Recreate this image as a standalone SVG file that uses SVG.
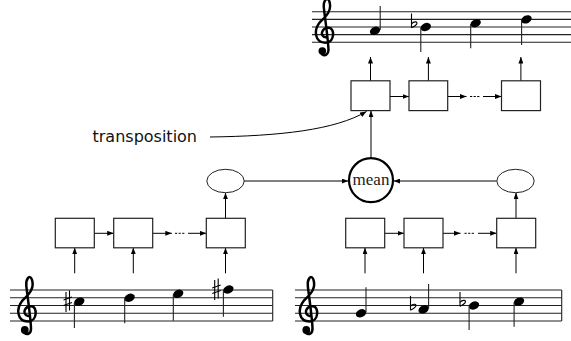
<svg xmlns="http://www.w3.org/2000/svg" xmlns:xlink="http://www.w3.org/1999/xlink" width="571" height="341" viewBox="0 0 571 341">
<style>
.staff line{stroke:#222;stroke-width:1.1}
.bar{stroke:#222;stroke-width:1}
.box{fill:#fff;stroke:#222;stroke-width:1.2}
.ell{fill:#fff;stroke:#222;stroke-width:1}
.mean{fill:#fff;stroke:#000;stroke-width:2.2}
.head{fill:#000}
.stem{stroke:#000;stroke-width:1.1}
.acc{fill:none;stroke:#000;stroke-width:1.1}
.conn path{fill:none;stroke:#000;stroke-width:1}
.arr{marker-end:url(#ah)}
.dots{stroke-dasharray:2.2,1.4}
.lbl{font-family:"DejaVu Sans",sans-serif;font-size:16px;fill:#111}
.mtxt{font-family:"Liberation Serif",serif;font-size:17px;fill:#222}
</style>
<defs>
<marker id="ah" markerUnits="userSpaceOnUse" markerWidth="7" markerHeight="5" refX="6.5" refY="2.5" orient="auto">
<path d="M0,0 L6.5,2.5 L0,5 z" fill="#000"/>
</marker>
<g id="clef">
<path d="M0.1,0.35 C-0.75,0.2 -0.45,-0.9 0.5,-0.9 C1.3,-0.9 1.3,1.05 0.1,1.05 C-1.4,1.05 -1.5,-0.6 -0.65,-1.65 C0.3,-2.5 0.95,-3.3 0.55,-4.4 C0.25,-5.05 -0.25,-4.4 -0.15,-3.5 C-0.05,-2.5 0.4,0.5 0.45,1.9 C0.5,2.6 0,2.85 -0.4,2.55" fill="none" stroke="#000" stroke-width="0.32" stroke-linecap="round"/>
<circle cx="-0.35" cy="2.15" r="0.5" fill="#000"/>
</g>
<g id="flat">
<path d="M0,-13.5 V0.8" class="acc"/>
<path d="M0,-3.2 C2.5,-6.2 7,-5.5 5,-2.6 C4,-1.2 2,-0.2 0,0.8" class="acc" stroke-width="1.7"/>
</g>
<g id="sharp">
<path d="M3,-9.5 V10.5 M6.5,-11 V9" class="acc" stroke-width="1.2"/>
<path d="M0.5,-1.5 L9,-4.5 M0.5,4 L9,1" class="acc" stroke-width="2.6"/>
</g>
</defs>
<rect width="571" height="341" fill="#fff"/>

<g id="staff-top" class="staff">
<line x1="312" y1="11.7" x2="571" y2="11.7"/>
<line x1="312" y1="19.35" x2="571" y2="19.35"/>
<line x1="312" y1="27" x2="571" y2="27"/>
<line x1="312" y1="34.65" x2="571" y2="34.65"/>
<line x1="312" y1="42.3" x2="571" y2="42.3"/>
<use xlink:href="#clef" href="#clef" transform="translate(325,34.65) scale(7.65)"/>
<ellipse class="head" cx="375" cy="30.8" rx="5.4" ry="3.9" transform="rotate(-25 375 30.8)"/>
<line class="stem" x1="380.2" y1="30" x2="380.2" y2="6"/>
<use xlink:href="#flat" href="#flat" x="411.5" y="27"/>
<ellipse class="head" cx="425.8" cy="27" rx="5.4" ry="3.9" transform="rotate(-25 425.8 27)"/>
<line class="stem" x1="420.8" y1="28" x2="420.8" y2="52"/>
<ellipse class="head" cx="475.7" cy="23.2" rx="5.4" ry="3.9" transform="rotate(-25 475.7 23.2)"/>
<line class="stem" x1="470.7" y1="24" x2="470.7" y2="48.3"/>
<ellipse class="head" cx="526.5" cy="19.35" rx="5.4" ry="3.9" transform="rotate(-25 526.5 19.35)"/>
<line class="stem" x1="521.6" y1="20" x2="521.6" y2="45"/>
</g>

<g id="staff-left" class="staff">
<line x1="10" y1="290" x2="272.7" y2="290"/>
<line x1="10" y1="297.75" x2="272.7" y2="297.75"/>
<line x1="10" y1="305.5" x2="272.7" y2="305.5"/>
<line x1="10" y1="313.25" x2="272.7" y2="313.25"/>
<line x1="10" y1="321" x2="272.7" y2="321"/>
<line class="bar" x1="272.7" y1="290" x2="272.7" y2="321"/>
<use xlink:href="#clef" href="#clef" transform="translate(27.5,313.25) scale(7.75)"/>
<use xlink:href="#sharp" href="#sharp" x="63" y="301.6"/>
<ellipse class="head" cx="79.3" cy="301.6" rx="5.4" ry="3.9" transform="rotate(-25 79.3 301.6)"/>
<line class="stem" x1="74.4" y1="302.5" x2="74.4" y2="328"/>
<ellipse class="head" cx="129.6" cy="297.75" rx="5.4" ry="3.9" transform="rotate(-25 129.6 297.75)"/>
<line class="stem" x1="124.7" y1="298.5" x2="124.7" y2="323.3"/>
<ellipse class="head" cx="178.2" cy="293.8" rx="5.4" ry="3.9" transform="rotate(-25 178.2 293.8)"/>
<line class="stem" x1="173.3" y1="294.5" x2="173.3" y2="320.7"/>
<use xlink:href="#sharp" href="#sharp" x="211.7" y="289.5"/>
<ellipse class="head" cx="228.4" cy="289.5" rx="5.4" ry="3.9" transform="rotate(-25 228.4 289.5)"/>
<line class="stem" x1="223.4" y1="290.3" x2="223.4" y2="316.7"/>
</g>

<g id="staff-right" class="staff">
<line x1="295" y1="290" x2="561.7" y2="290"/>
<line x1="295" y1="297.75" x2="561.7" y2="297.75"/>
<line x1="295" y1="305.5" x2="561.7" y2="305.5"/>
<line x1="295" y1="313.25" x2="561.7" y2="313.25"/>
<line x1="295" y1="321" x2="561.7" y2="321"/>
<line class="bar" x1="561.7" y1="290" x2="561.7" y2="321"/>
<use xlink:href="#clef" href="#clef" transform="translate(309,313.25) scale(7.75)"/>
<ellipse class="head" cx="361" cy="313.25" rx="5.4" ry="3.9" transform="rotate(-25 361 313.25)"/>
<line class="stem" x1="366" y1="312.5" x2="366" y2="287.3"/>
<use xlink:href="#flat" href="#flat" x="410.5" y="309.4"/>
<ellipse class="head" cx="423.6" cy="309.4" rx="5.4" ry="3.9" transform="rotate(-25 423.6 309.4)"/>
<line class="stem" x1="428.6" y1="308.6" x2="428.6" y2="284"/>
<use xlink:href="#flat" href="#flat" x="460" y="305.5"/>
<ellipse class="head" cx="474" cy="305.5" rx="5.4" ry="3.9" transform="rotate(-25 474 305.5)"/>
<line class="stem" x1="469.1" y1="306.3" x2="469.1" y2="330"/>
<ellipse class="head" cx="519" cy="301.6" rx="5.4" ry="3.9" transform="rotate(-25 519 301.6)"/>
<line class="stem" x1="514.1" y1="302.4" x2="514.1" y2="326.7"/>
</g>

<g id="conn" class="conn">
<path class="arr" d="M370.5,80.8 V57"/>
<path class="arr" d="M428.4,80.8 V57"/>
<path class="arr" d="M520.9,80.8 V57"/>
<path class="arr" d="M390,96.5 H409"/>
<path class="arr" d="M447.7,96.5 H466.5"/>
<path class="dots" d="M470,96.5 H480"/>
<path class="arr" d="M483,96.5 H501.5"/>
<path class="arr" d="M94.3,233.3 H113.7"/>
<path class="arr" d="M152.7,233.3 H171.8"/>
<path class="dots" d="M175,233.3 H185"/>
<path class="arr" d="M188,233.3 H206.3"/>
<path class="arr" d="M384.7,233.3 H404"/>
<path class="arr" d="M443,233.3 H460.5"/>
<path class="dots" d="M464.5,233.3 H474.5"/>
<path class="arr" d="M478,233.3 H496.7"/>
<path class="arr" d="M74.7,273.3 V247.8"/>
<path class="arr" d="M133.3,273.3 V247.8"/>
<path class="arr" d="M225.5,273.3 V247.8"/>
<path class="arr" d="M365,273.3 V247.8"/>
<path class="arr" d="M423.5,273.3 V247.8"/>
<path class="arr" d="M516,273.3 V247.8"/>
<path class="arr" d="M225.5,218.3 V192.8"/>
<path class="arr" d="M516,218.3 V192.8"/>
<path class="arr" d="M244,181 H348.3"/>
<path class="arr" d="M496.6,181 H393.7"/>
<path class="arr" d="M371,157.8 V110.8"/>
<path class="arr" d="M210,137 C280,136 335,130 366.5,111.5"/>
</g>

<g id="box-top-1"><rect class="box" x="351" y="80.8" width="39" height="29.8"/></g>
<g id="box-top-2"><rect class="box" x="409" y="80.8" width="38.7" height="29.8"/></g>
<g id="box-top-3"><rect class="box" x="501.5" y="80.8" width="39" height="29.8"/></g>
<g id="box-left-1"><rect class="box" x="55.3" y="218.3" width="39" height="29.5"/></g>
<g id="box-left-2"><rect class="box" x="113.7" y="218.3" width="39" height="29.5"/></g>
<g id="box-left-3"><rect class="box" x="206.3" y="218.3" width="39" height="29.5"/></g>
<g id="box-right-1"><rect class="box" x="345.7" y="218.3" width="39" height="29.5"/></g>
<g id="box-right-2"><rect class="box" x="404" y="218.3" width="39" height="29.5"/></g>
<g id="box-right-3"><rect class="box" x="496.7" y="218.3" width="39" height="29.5"/></g>
<g id="ellipse-left"><ellipse class="ell" cx="225.5" cy="181" rx="18.7" ry="11.7"/></g>
<g id="ellipse-right"><ellipse class="ell" cx="515.5" cy="181" rx="18.7" ry="11.7"/></g>
<g id="mean"><circle class="mean" cx="371" cy="180.2" r="22"/><text class="mtxt" x="371" y="184.5" text-anchor="middle">mean</text></g>
<g id="label-transposition"><text class="lbl" x="92.5" y="141.5">transposition</text></g>
</svg>
